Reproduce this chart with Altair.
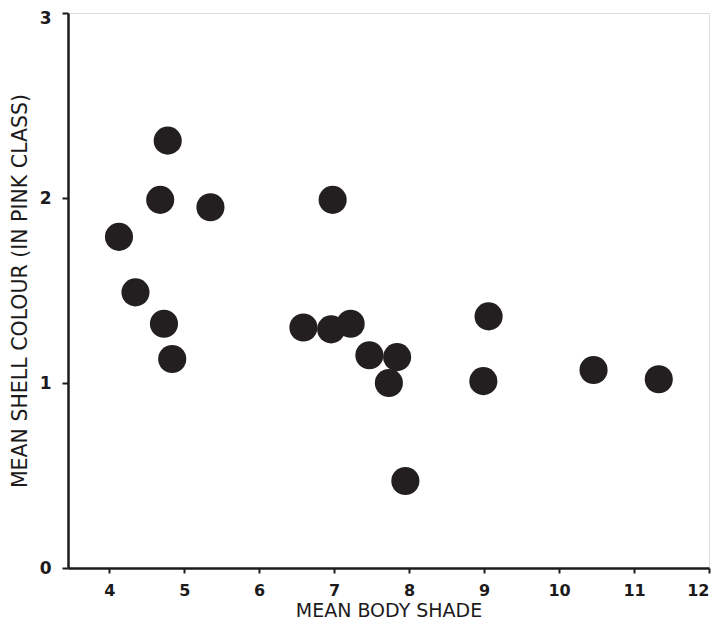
import altair as alt
import pandas as pd

body_shade = [4.13, 4.35, 4.68, 4.78, 4.73, 4.84, 5.35, 6.59, 6.96, 7.22, 6.98,
              7.47, 7.84, 7.73, 7.95, 9.06, 8.99, 10.46, 11.33]
shell_colour = [1.79, 1.49, 1.99, 2.31, 1.32, 1.13, 1.95, 1.30, 1.29, 1.32, 1.99,
                1.15, 1.14, 1.00, 0.47, 1.36, 1.01, 1.07, 1.02]
x_ticks = [4, 5, 6, 7, 8, 9, 10, 11, 12]
y_ticks = [0, 1, 2, 3]

df = pd.DataFrame({"x": body_shade, "y": shell_colour})

ink = "#1c1a1b"
font = "DejaVu Sans"

chart = alt.Chart(df).mark_circle(size=790, opacity=1, color="#231f20").encode(
    x=alt.X("x:Q", scale=alt.Scale(domain=[3.45, 12], nice=False, zero=False),
            axis=alt.Axis(values=x_ticks, title="MEAN BODY SHADE", grid=False,
                          domainColor=ink, domainWidth=2.5, tickColor=ink, tickWidth=2,
                          tickSize=5, labelFont=font, labelFontWeight="bold",
                          labelFontSize=16, labelColor=ink, labelPadding=9,
                          titleFont=font, titleFontWeight="normal", titleFontSize=19,
                          titleColor=ink, titlePadding=3)),
    y=alt.Y("y:Q", scale=alt.Scale(domain=[0, 3], nice=False),
            axis=alt.Axis(values=y_ticks, title="MEAN SHELL COLOUR (IN PINK CLASS)",
                          grid=False, domainColor=ink, domainWidth=2.5, tickColor=ink,
                          tickWidth=2, tickSize=6, labelFont=font,
                          labelFontWeight="bold", labelFontSize=17, labelColor=ink,
                          labelPadding=11,
                          labelOffset={"condition": {"test": "datum.value == 3", "value": 5}, "value": 0},
                          titleFont=font, titleFontWeight="normal",
                          titleFontSize=20.5, titleColor=ink, titlePadding=9)),
).properties(
    width=641, height=555,
    autosize=alt.AutoSizeParams(type="none"),
    padding={"left": 60, "top": 5, "right": 9, "bottom": 52},
).configure_view(stroke=None).configure(background="white")

chart.save("out.html", embed_options={"renderer": "svg", "actions": False})
